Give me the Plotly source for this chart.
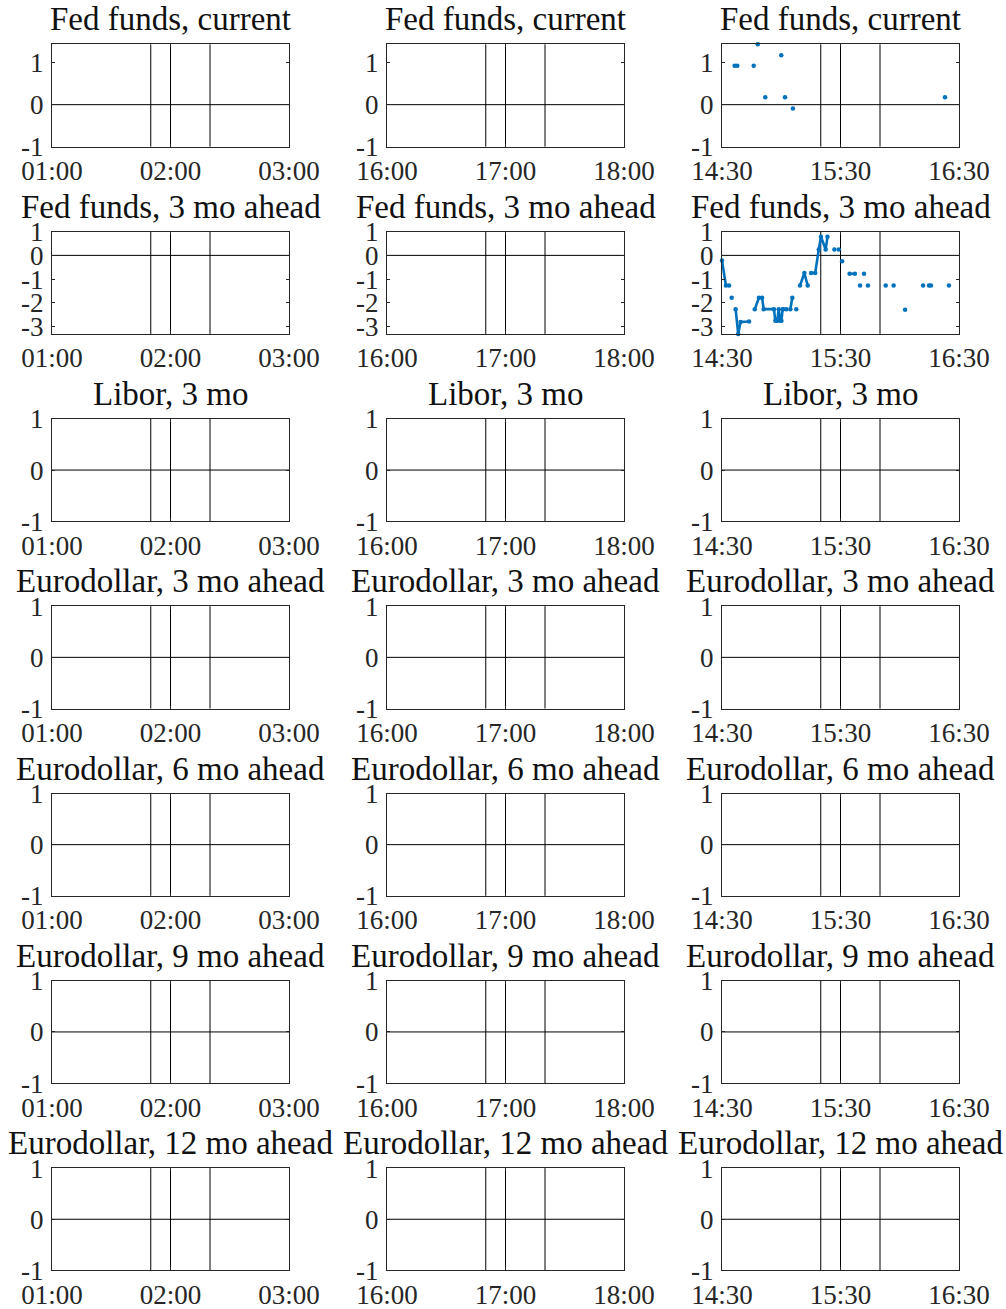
import plotly.graph_objects as go

# Figure size in pixels
W, H = 1006, 1309

# Panel titles, one per row
PANEL_TITLES = [
    "Fed funds, current",
    "Fed funds, 3 mo ahead",
    "Libor, 3 mo",
    "Eurodollar, 3 mo ahead",
    "Eurodollar, 6 mo ahead",
    "Eurodollar, 9 mo ahead",
    "Eurodollar, 12 mo ahead",
]

# Time windows, one per column (clock times within the event day)
DAY = "2000-01-01"
WINDOW_START = ["01:00", "16:00", "14:30"]
WINDOW_MID = ["02:00", "17:00", "15:30"]
WINDOW_END = ["03:00", "18:00", "16:30"]

# Event markers drawn as vertical lines in each column
EVENT_LINES = [
    ["01:50", "02:00", "02:20"],
    ["16:50", "17:00", "17:20"],
    ["15:20", "15:30", "15:50"],
]

# Y ranges and ticks per row
Y_RANGES = [[-1, 1.44], [-3.3, 1.0], [-1, 1], [-1, 1], [-1, 1], [-1, 1], [-1, 1]]
Y_TICKS = [[-1, 0, 1], [-3, -2, -1, 0, 1], [-1, 0, 1], [-1, 0, 1],
           [-1, 0, 1], [-1, 0, 1], [-1, 0, 1]]

# Fed funds, current -- third window (None marks a gap)
ff_current_times = ["14:36:24", None, "14:37:45", None, "14:46:03", None,
                    "14:48:06", None, "14:51:54", None, "15:00:00", None,
                    "15:01:54", None, "15:05:54", None, "16:22:54"]
ff_current_values = [0.93, None, 0.93, None, 0.93, None,
                     1.44, None, 0.18, None, 1.18, None,
                     0.18, None, -0.09, None, 0.18]

# Fed funds, 3 mo ahead -- third window (None marks a gap)
ff_3mo_times = [
    "14:30:00", "14:32:00", "14:33:36", None,
    "14:34:54", None,
    "14:36:54", "14:38:12", "14:39:24", "14:43:42", None,
    "14:46:36", "14:48:42", "14:50:18", "14:51:06", "14:56:18", "14:57:00",
    "14:58:00", "14:58:42", "14:59:30", "15:00:06", "15:00:42", "15:01:00", None,
    "15:02:36", None,
    "15:04:36", "15:05:36", None,
    "15:07:36", None,
    "15:09:30", "15:11:42", "15:13:24", None,
    "15:15:06", "15:17:12", "15:19:00", "15:20:06", "15:22:30", "15:23:24", None,
    "15:26:54", None,
    "15:29:06", None,
    "15:30:48", None,
    "15:34:36", "15:37:18", None,
    "15:39:54", None,
    "15:41:54", None,
    "15:43:54", None,
    "15:52:54", None,
    "15:56:54", None,
    "16:02:42", None,
    "16:11:48", None,
    "16:14:48", None,
    "16:15:48", None,
    "16:24:54",
]
ff_3mo_values = [
    -0.22, -1.27, -1.27, None,
    -1.78, None,
    -2.26, -3.30, -2.80, -2.78, None,
    -2.26, -1.78, -1.78, -2.26, -2.26, -2.75,
    -2.75, -2.26, -2.75, -2.75, -2.26, -2.26, None,
    -2.26, None,
    -2.26, -1.78, None,
    -2.26, None,
    -1.27, -0.74, -1.27, None,
    -0.74, -0.74, 0.25, 0.78, 0.25, 0.78, None,
    0.25, None,
    0.25, None,
    -0.25, None,
    -0.77, -0.77, None,
    -1.27, None,
    -0.77, None,
    -1.27, None,
    -1.27, None,
    -1.27, None,
    -2.28, None,
    -1.27, None,
    -1.27, None,
    -1.27, None,
    -1.27,
]

# Series per (row, column); empty panels have no observations
SERIES = {
    (0, 2): (ff_current_times, ff_current_values),
    (1, 2): (ff_3mo_times, ff_3mo_values),
}

# Panel placement in pixels
COL_LEFT = [52, 387, 722]
PANEL_W = 237
ROW_TOP0 = 44.3
ROW_PITCH = 187.3
PANEL_H = 102.3

LINE_BLUE = "#0072BD"
AXIS_COLOR = "#262626"
FONT = "Liberation Serif"


def stamp(t):
    return None if t is None else f"{DAY} {t}"


fig = go.Figure()
layout = {}
shapes = []
annotations = []

for r in range(7):
    top = ROW_TOP0 + r * ROW_PITCH
    bottom = top + PANEL_H
    for c in range(3):
        k = r * 3 + c + 1
        xa = "xaxis" if k == 1 else f"xaxis{k}"
        ya = "yaxis" if k == 1 else f"yaxis{k}"
        xr = "x" if k == 1 else f"x{k}"
        yr = "y" if k == 1 else f"y{k}"

        left = COL_LEFT[c]
        right = left + PANEL_W

        times, values = SERIES.get((r, c), ([], []))
        fig.add_trace(go.Scatter(
            x=[stamp(t) for t in times], y=values,
            mode="lines+markers",
            line=dict(color=LINE_BLUE, width=2.6),
            marker=dict(color=LINE_BLUE, size=4.5),
            connectgaps=False, cliponaxis=False,
            xaxis=xr, yaxis=yr, showlegend=False, hoverinfo="skip",
        ))

        layout[xa] = dict(
            domain=[left / W, right / W], anchor=yr, type="date",
            range=[stamp(WINDOW_START[c]), stamp(WINDOW_END[c])],
            tickvals=[stamp(WINDOW_START[c]), stamp(WINDOW_MID[c]), stamp(WINDOW_END[c])],
            ticktext=[WINDOW_START[c], WINDOW_MID[c], WINDOW_END[c]],
            showline=True, linecolor=AXIS_COLOR, linewidth=1, mirror="ticks",
            ticks="inside", ticklen=3, tickcolor=AXIS_COLOR, tickwidth=1,
            showgrid=False, zeroline=False, fixedrange=True, automargin=False,
            tickfont=dict(family=FONT, size=27, color=AXIS_COLOR),
        )
        layout[ya] = dict(
            domain=[1 - bottom / H, 1 - top / H], anchor=xr,
            range=Y_RANGES[r],
            tickvals=Y_TICKS[r],
            ticktext=[str(v) for v in Y_TICKS[r]],
            showline=True, linecolor=AXIS_COLOR, linewidth=1, mirror="ticks",
            ticks="inside", ticklen=3, tickcolor=AXIS_COLOR, tickwidth=1,
            showgrid=False, zeroline=False, fixedrange=True, automargin=False,
            tickfont=dict(family=FONT, size=27, color=AXIS_COLOR),
            ticklabelstandoff=2,
        )

        # zero reference line
        shapes.append(dict(
            type="line", xref=f"{xr} domain", yref=yr,
            x0=0, x1=1, y0=0, y1=0,
            line=dict(color="#000000", width=1), layer="below",
        ))
        # event window lines
        for t in EVENT_LINES[c]:
            shapes.append(dict(
                type="line", xref=xr, yref=f"{yr} domain",
                x0=stamp(t), x1=stamp(t), y0=0, y1=1,
                line=dict(color="#000000", width=1), layer="below",
            ))

        annotations.append(dict(
            text=PANEL_TITLES[r], xref="paper", yref="paper",
            x=(left + right) / 2 / W, y=1 - (top - 25) / H,
            xanchor="center", yanchor="middle", showarrow=False,
            font=dict(family=FONT, size=33, color="#111111"),
        ))

fig.update_layout(
    width=W, height=H,
    margin=dict(l=0, r=0, t=0, b=0, autoexpand=False),
    paper_bgcolor="white", plot_bgcolor="white",
    shapes=shapes, annotations=annotations,
    **layout,
)

fig.write_html("out.html")
